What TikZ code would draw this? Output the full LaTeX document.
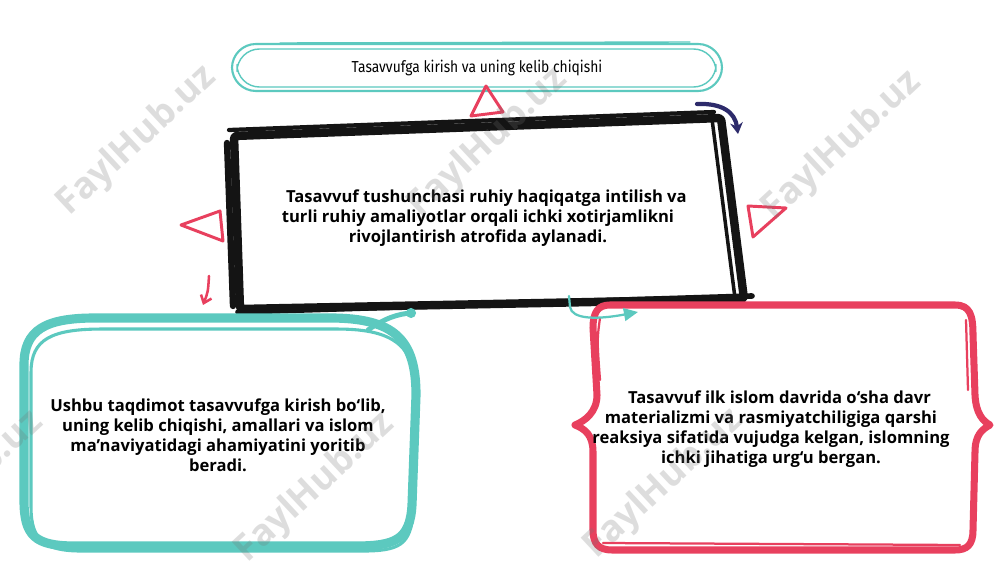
\documentclass[tikz,border=0pt]{standalone}
\usepackage{fontspec}
\usepackage{xcolor}
\usepackage{tikz}
\usetikzlibrary{arrows.meta}

\newfontfamily\bodyfont{Open Sans}
\newfontfamily\titlefont{Fira Sans}[FakeStretch=0.87]
\definecolor{tealline}{HTML}{5CC9BF}
\definecolor{pinkline}{HTML}{E8405E}
\definecolor{inkline}{HTML}{141414}
\definecolor{navyline}{HTML}{2D2B6B}

\begin{document}
\begin{tikzpicture}[x=0.025cm, y=-0.025cm, line cap=round, line join=round,
            body/.style = {font=\bodyfont\bfseries\fontsize{11.8}{14.2}\selectfont,
                        align=center, inner sep=0pt},
            titletext/.style = {font=\titlefont\fontsize{11.3}{13}\selectfont, inner sep=0pt},
            tri/.style = {draw=pinkline, line width=2.1pt},
            wmark/.style = {font=\bodyfont\bfseries\fontsize{26}{26}\selectfont,
                        text=black!55, text opacity=0.24, rotate=43}]
            \fill[white] (0,0) rectangle (1000,563);
            \useasboundingbox (0,0) rectangle (1000,563);

            % Title pill
            \draw[tealline, line width=1.5pt, rounded corners=17pt] (232,44) rectangle (722,91);
            \draw[tealline, line width=1pt, rounded corners=16pt] (237,49) rectangle (716,87);
            \draw[tealline, line width=1pt] (280,43) -- (690,42);
            \node[titletext] (title) at (477,68) {Tasavvufga kirish va uning kelib chiqishi};

            % Central box
            \draw[inkline, line width=6pt, rounded corners=2pt] (234,136) -- (721,118) -- (744,299) -- (240,309) -- cycle;
            \draw[inkline, line width=3pt] (229,130) -- (714,112);
            \draw[inkline, line width=4.5pt] (227,143) -- (233,306);
            \draw[inkline, line width=2.5pt] (712,119) -- (735,298);
            \draw[inkline, line width=4pt] (238,312) -- (752,296);
            \node[body] (core) at (478,218) {\hspace*{12pt}Tasavvuf tushunchasi ruhiy haqiqatga intilish va\\
                turli ruhiy amaliyotlar orqali ichki xotirjamlikni\hspace*{8pt}\\
                rivojlantirish atrofida aylanadi.};

            % Left box
            \draw[tealline, line width=6.5pt] (24,365) .. controls (24,330) and (45,318) .. (95,318)
                -- (330,318) .. controls (395,318) and (416,340) .. (416,395)
                -- (412,505) .. controls (410,540) and (395,546) .. (355,546)
                -- (75,546) .. controls (35,546) and (24,536) .. (24,500) -- cycle;
            \draw[tealline, line width=2.2pt, shift={(5pt,-5pt)}] (24,365) .. controls (24,332) and (45,322) .. (95,322)
                -- (330,322) .. controls (392,322) and (410,342) .. (410,395)
                -- (406,505) .. controls (404,538) and (392,544) .. (355,544)
                -- (75,544) .. controls (38,544) and (24,534) .. (24,500) -- cycle;
            \node[body] (left) at (218,435) {Ushbu taqdimot tasavvufga kirish bo‘lib,\\
                uning kelib chiqishi, amallari va islom\\
                ma’naviyatidagi ahamiyatini yoritib\\
                beradi.};

            % Right box
            \draw[pinkline, line width=5pt] (610,305) -- (955,305)
                .. controls (970,305) and (973,315) .. (973,335)
                -- (975,395) .. controls (976,414) and (983,421) .. (990,425)
                .. controls (983,429) and (975,434) .. (975,452)
                -- (973,530) .. controls (973,545) and (967,550) .. (955,550)
                -- (612,550) .. controls (599,550) and (593,544) .. (593,530)
                -- (593,452) .. controls (593,435) and (585,429) .. (575,425)
                .. controls (585,421) and (597,412) .. (597,395)
                -- (593,328) .. controls (593,312) and (598,305) .. (610,305) -- cycle;
            \draw[pinkline, line width=1.6pt] (600,318) .. controls (597,340) .. (600,380);
            \draw[pinkline, line width=1.6pt] (966,320) -- (968,390);
            \draw[pinkline, line width=1.6pt] (603,543) -- (960,545);
            \node[body] (right) at (771,429) {\hspace*{12pt}Tasavvuf ilk islom davrida o‘sha davr\\
                materializmi va rasmiyatchiligiga qarshi\\
                reaksiya sifatida vujudga kelgan, islomning\\
                ichki jihatiga urg‘u bergan.};

            % Triangles
            \draw[tri] (181,225) -- (220,211) -- (223,241) -- cycle;
            \draw[tri] (486,86) -- (471,116) -- (503,112) -- cycle;
            \draw[tri] (748,206) -- (786,208) -- (753,237) -- cycle;

            % Small arrows
            \coordinate (navyA) at (697,104);
            \coordinate (navyB) at (738,134);
            \draw[navyline, line width=3pt, -{Stealth[length=8pt,width=9pt]}] (navyA) .. controls (722,103) and (735,112) .. (navyB);
            \coordinate (pinkA) at (209,276);
            \coordinate (pinkB) at (203,305);
            \draw[pinkline, line width=1.8pt, -{Straight Barb[length=5pt,width=8pt]}] (pinkA) .. controls (208,292) .. (pinkB);
            \coordinate (knobA) at (368,330);
            \coordinate (knobB) at (411,313);
            \draw[tealline, line width=3.5pt] (knobA) .. controls (385,318) and (398,314) .. (knobB);
            \fill[tealline] (knobB) circle (3.6pt);
            \coordinate (hookA) at (569,296);
            \coordinate (hookB) at (638,312);
            \draw[tealline, line width=1.6pt, -{Triangle[length=10pt,width=9pt]}] (hookA) -- (570,307)
                .. controls (572,319) and (595,320) .. (hookB);

            % Watermark
            \foreach \i/\x/\y in {1/137/141, 2/488/143, 3/842/146, 4/-36/486, 5/315/488, 6/664/484}
                \node[wmark] (wm\i) at (\x,\y) {FaylHub.uz};
        \end{tikzpicture}
\end{document}
